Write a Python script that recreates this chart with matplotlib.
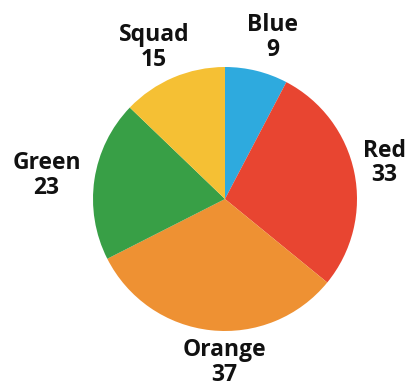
import matplotlib
matplotlib.use("Agg")
import matplotlib.pyplot as plt
import numpy as np

categories = ["Blue", "Red", "Orange", "Green", "Squad"]
values = [9, 33, 37, 23, 15]
colors = ["#2eaade", "#e84531", "#ee9133", "#389f46", "#f5c034"]

W, H, DPI = 409, 383, 100
fig = plt.figure(figsize=(W / DPI, H / DPI), dpi=DPI)
ax = fig.add_axes([0, 0, 1, 1])

cx, cy, radius = 225, H - 199, 132
labels = [f"{c}\n{v}" for c, v in zip(categories, values)]
wedges, texts = ax.pie(
    values,
    labels=labels,
    colors=colors,
    startangle=90,
    counterclock=False,
    center=(cx, cy),
    radius=radius,
    labeldistance=1.24,
    textprops=dict(fontsize=16.5, weight="bold", family=["Open Sans"],
                   color="#111111", ha="center", va="center",
                   linespacing=1.04),
)

# shift a few labels around the rim (degrees, distance factor)
nudges = {"Blue": (-2.5, 1.03), "Red": (1.2, 1.0), "Orange": (6, 1.0),
          "Green": (1, 1.1), "Squad": (2, 1.02)}
for w, t, c in zip(wedges, texts, categories):
    ang = 0.5 * (w.theta1 + w.theta2)
    da, fd = nudges.get(c, (0, 1.0))
    a = np.deg2rad(ang + da)
    d = radius * 1.24 * fd
    t.set_position((cx + d * np.cos(a), cy + d * np.sin(a)))
    t.set_ha("center")

ax.set_xlim(0, W)
ax.set_ylim(0, H)
ax.set_aspect("equal")
ax.axis("off")
fig.savefig("out.png", dpi=DPI)
